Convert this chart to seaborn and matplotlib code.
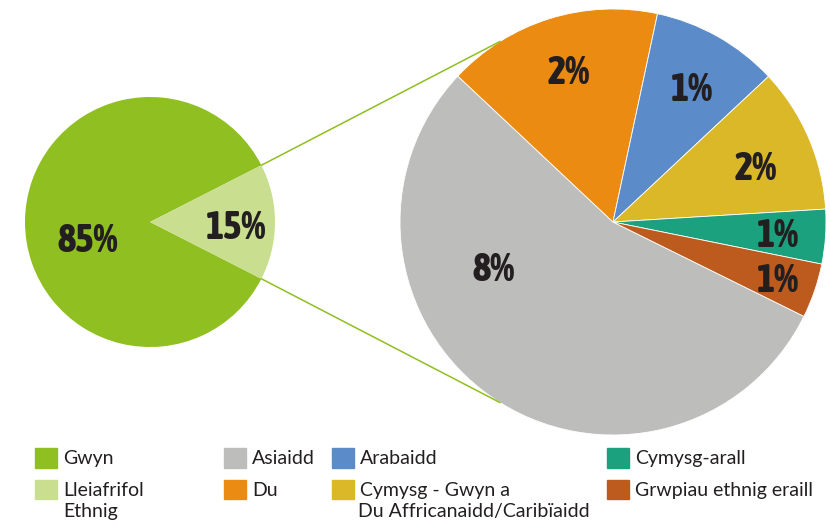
import matplotlib
matplotlib.use("Agg")
import matplotlib.pyplot as plt
import seaborn as sns
import numpy as np
from matplotlib import font_manager as fm
from matplotlib.patches import ConnectionPatch, Patch


OUTPUT_PATH = "out.png"

# overall split
MAIN_LABELS = ["Gwyn", "Lleiafrifol"]
MAIN_VALUES = [85, 15]
MAIN_TEXT = ["85%", "15%"]
MAIN_COLORS = ["#8fbf21", "#c9df8f"]

# breakdown of the 15% minority slice
DETAIL_LABELS = [
    "Asiaidd",
    "Du",
    "Arabaidd",
    "Cymysg - Gwyn a",
    "Cymysg-arall",
    "Grwpiau ethnig eraill",
]
DETAIL_VALUES = [8.2, 2.45, 1.45, 1.65, 0.62, 0.62]
DETAIL_TEXT = ["8%", "2%", "1%", "2%", "1%", "1%"]
DETAIL_COLORS = ["#bdbdbc", "#ec8b12", "#5b8bc8", "#dbb827", "#1ba17e", "#bd5a1e"]

# second lines of the two wrapped legend entries
LEGEND_WRAP = [("Ethnig", 63), ("Du Affricanaidd/Caribïaidd", 358)]

# where the percentage labels sit (pie data units)
MAIN_TEXT_POS = [(-0.50, -0.15), (0.69, -0.045)]
DETAIL_TEXT_POS = [(-0.56, -0.225), (-0.21, 0.70), (0.37, 0.62),
                   (0.67, 0.25), (0.775, -0.065), (0.775, -0.275)]

TEXT_COLOR = "#231f20"
LEGEND_FONT = ["Lato", "DejaVu Sans"]


def weight_of(entry) -> int:
    w = entry.weight
    if isinstance(w, str):
        w = fm.weight_dict.get(w, 400)
    return int(w)


def number_font():
    """Look for a bold condensed face; fall back to DejaVu bold."""
    best, best_score = None, None
    for entry in fm.fontManager.ttflist:
        key = (entry.name + " " + entry.fname).lower()
        if "condensed" not in key and "narrow" not in key:
            continue
        if "italic" in key or "oblique" in key:
            continue
        score = abs(weight_of(entry) - 800)
        if best_score is None or score < best_score:
            best, best_score = entry, score
    if best is not None and weight_of(best) >= 600:
        return fm.FontProperties(fname=best.fname), 28
    return fm.FontProperties(family="DejaVu Sans", weight="bold"), 23


def main() -> None:
    sns.set_theme(style="white")
    plt.rcParams["font.family"] = LEGEND_FONT

    num_prop, num_size = number_font()
    num_prop.set_size(num_size)

    W, H = 830, 525
    fig = plt.figure(figsize=(W / 100, H / 100), dpi=100)

    # small pie: centre (150, 222), r = 125 px
    ax_main = fig.add_axes([25 / W, (H - 347) / H, 250 / W, 250 / H])
    ax_main.pie(MAIN_VALUES, colors=MAIN_COLORS, startangle=27,
                wedgeprops=dict(linewidth=0))
    ax_main.set_xlim(-1, 1)
    ax_main.set_ylim(-1, 1)
    for txt, (x, y) in zip(MAIN_TEXT, MAIN_TEXT_POS):
        ax_main.text(x, y, txt, ha="center", va="center",
                     fontproperties=num_prop, color=TEXT_COLOR)

    # big pie: centre (613, 222), r = 213 px
    ax_det = fig.add_axes([400 / W, (H - 435) / H, 426 / W, 426 / H])
    ax_det.pie(DETAIL_VALUES, colors=DETAIL_COLORS, startangle=-26.3,
               counterclock=False,
               wedgeprops=dict(edgecolor="white", linewidth=0.6))
    ax_det.set_xlim(-1, 1)
    ax_det.set_ylim(-1, 1)
    for txt, (x, y) in zip(DETAIL_TEXT, DETAIL_TEXT_POS):
        ax_det.text(x, y, txt, ha="center", va="center",
                    fontproperties=num_prop, color=TEXT_COLOR)

    # connector lines from the minority slice to the breakdown pie
    half = np.deg2rad(360 * MAIN_VALUES[1] / sum(MAIN_VALUES) / 2)
    target = np.deg2rad(122)
    for sign in (1, -1):
        con = ConnectionPatch(
            xyA=(np.cos(half), sign * np.sin(half)), coordsA=ax_main.transData,
            xyB=(np.cos(target), sign * np.sin(target)), coordsB=ax_det.transData,
            color=MAIN_COLORS[0], linewidth=1.1,
        )
        fig.add_artist(con)

    # legend, four columns laid out like the original
    handles = [Patch(color=c) for c in MAIN_COLORS + DETAIL_COLORS]
    labels = MAIN_LABELS + DETAIL_LABELS
    columns = [(35, [0, 1]), (224, [2, 3]), (332, [4, 5]), (607, [6, 7])]
    for x0, idx in columns:
        leg = fig.legend(
            [handles[i] for i in idx], [labels[i] for i in idx],
            loc="upper left", bbox_to_anchor=(x0 / W, 1 - 448 / H),
            frameon=False, fontsize=14, borderpad=0, borderaxespad=0,
            handlelength=1.13, handleheight=1.18, handletextpad=0.3,
            labelspacing=0.62,
        )
        for t in leg.get_texts():
            t.set_color(TEXT_COLOR)

    for txt, x in LEGEND_WRAP:
        fig.text(x / W, 1 - 503 / H, txt, ha="left", va="top",
                 fontsize=14, color=TEXT_COLOR)

    fig.savefig(OUTPUT_PATH, dpi=100)
    plt.close(fig)


if __name__ == "__main__":
    main()
